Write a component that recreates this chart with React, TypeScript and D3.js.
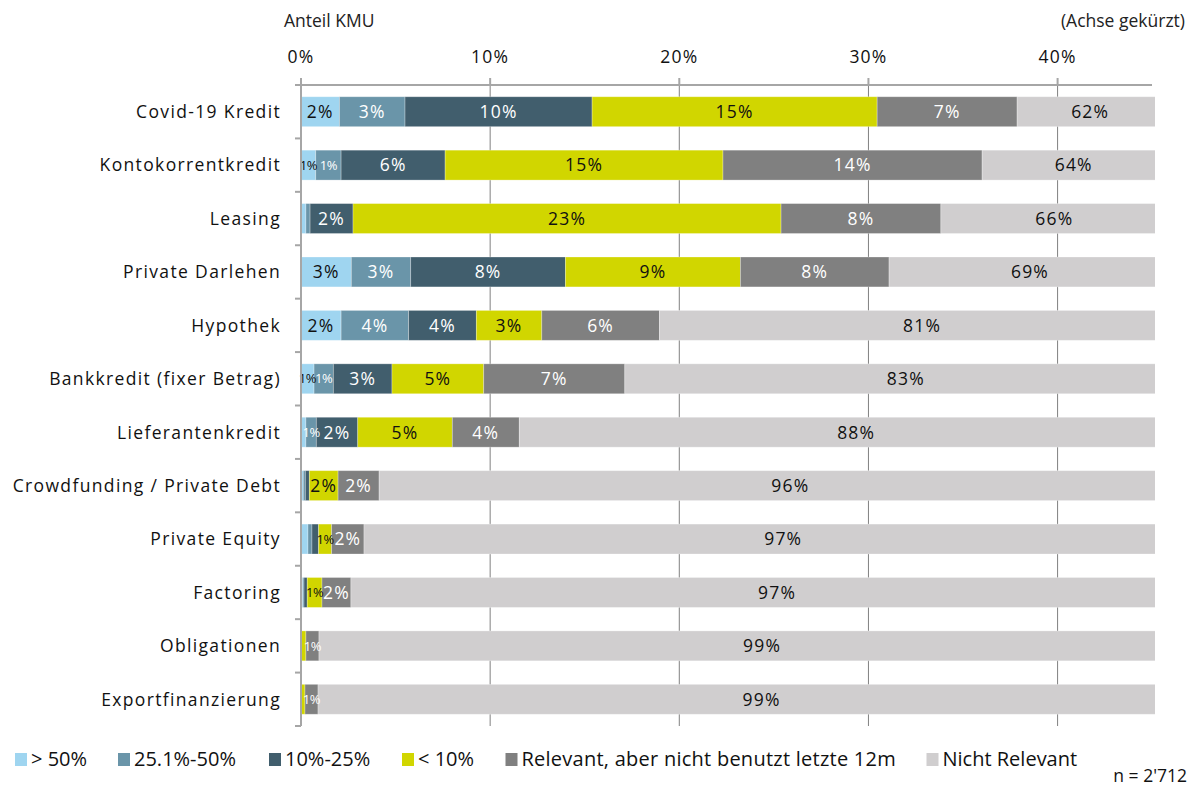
import React from "react";
import * as d3 from "d3";

const categories = [
  "Covid-19 Kredit",
  "Kontokorrentkredit",
  "Leasing",
  "Private Darlehen",
  "Hypothek",
  "Bankkredit (fixer Betrag)",
  "Lieferantenkredit",
  "Crowdfunding / Private Debt",
  "Private Equity",
  "Factoring",
  "Obligationen",
  "Exportfinanzierung",
];

const seriesNames = [
  "> 50%",
  "25.1%-50%",
  "10%-25%",
  "< 10%",
  "Relevant, aber nicht benutzt letzte 12m",
  "Nicht Relevant",
];

const over50 = [2.03, 0.78, 0.26, 2.66, 2.12, 0.69, 0.26, 0.12, 0.37, 0.09, 0, 0];
const from25to50 = [3.47, 1.34, 0.22, 3.14, 3.57, 1.02, 0.55, 0.11, 0.21, 0.07, 0, 0];
const from10to25 = [9.89, 5.5, 2.27, 8.18, 3.58, 3.1, 2.19, 0.21, 0.35, 0.17, 0, 0];
const under10 = [15.07, 14.69, 22.63, 9.25, 3.46, 4.85, 5.0, 1.52, 0.69, 0.78, 0.26, 0.21];
const relevantUnused = [7.4, 13.7, 8.45, 7.86, 6.22, 7.46, 3.54, 2.17, 1.71, 1.53, 0.69, 0.69];
const notRelevant = [62.14, 63.99, 66.17, 68.91, 81.05, 82.88, 88.46, 95.87, 96.67, 97.36, 99.05, 99.1];

const xTicks = [0, 10, 20, 30, 40];
const axisMax = 45.15;

const colors = ["#9fd5f0", "#6a95a9", "#415e6d", "#d1d600", "#808080", "#d0cecf"];
const labelColors = ["#111", "#fff", "#fff", "#111", "#fff", "#111"];

const FONT = "'Open Sans', 'Noto Sans', sans-serif";

export default function App() {
  const W = 1194;
  const H = 787;
  const x0 = 301;
  const x1 = 1155;
  const x = d3.scaleLinear().domain([0, axisMax]).range([x0, x1]);
  const y = d3
    .scaleBand<string>()
    .domain(categories)
    .range([85, 726])
    .paddingInner(0.44)
    .paddingOuter(0.22);

  const seriesArrays = [over50, from25to50, from10to25, under10, relevantUnused, notRelevant];
  const rows = categories.map((c, i) => {
    const r: any = { cat: c };
    seriesNames.forEach((s, k) => (r[s] = seriesArrays[k][i]));
    return r;
  });
  const stacked = d3.stack<any>().keys(seriesNames)(rows);

  const legendX = [15, 118, 269, 402, 505.5, 926.5];
  const bw = y.bandwidth();
  const boundaries = d3.range(categories.length + 1).map((i) => y.range()[0] + i * y.step());

  return (
    <svg width={W} height={H} style={{ display: "block", position: "absolute", left: 0, top: 0 }}>
      <defs>
        <clipPath id="plotclip">
          <rect x={x0} y={0} width={x1 - x0} height={H} />
        </clipPath>
      </defs>
      <rect width={W} height={H} fill="#fff" />

      {/* headers */}
      <text x={284} y={27} fontFamily={FONT} fontSize={17.5} fill="#222">Anteil KMU</text>
      <text x={1185} y={27} textAnchor="end" fontFamily={FONT} fontSize={17.5} fill="#222">(Achse gekürzt)</text>

      {/* gridlines */}
      {xTicks.filter((t) => t > 0).map((t) => (
        <line key={"g" + t} x1={x(t)} x2={x(t)} y1={85} y2={726} stroke="#808080" strokeWidth={1} />
      ))}

      {/* bars */}
      <g clipPath="url(#plotclip)">
        {stacked.map((s, k) =>
          s.map((d, i) => (
            <rect
              key={k + "-" + i}
              x={x(d[0])}
              y={y(categories[i])}
              width={Math.max(0, x(d[1]) - x(d[0]))}
              height={bw}
              fill={colors[k]}
              stroke="rgba(255,255,255,0.35)"
              strokeWidth={0.8}
            />
          ))
        )}
      </g>

      {/* segment labels */}
      {stacked.map((s, k) =>
        s.map((d, i) => {
          const v = d[1] - d[0];
          if (Math.round(v) < 1) return null;
          const a = x(d[0]);
          const truncated = x(d[1]) > x1;
          const cx = truncated ? a + 0.53 * (x1 - a) : (a + x(d[1])) / 2;
          const small = v < 1.45;
          return (
            <text
              key={"l" + k + "-" + i}
              x={cx}
              y={(y(categories[i]) as number) + bw / 2}
              dy="0.36em"
              textAnchor="middle"
              fontFamily={FONT}
              fontSize={small ? 13 : 17.5}
              letterSpacing={small ? -0.4 : 1.2}
              fill={labelColors[k]}
            >
              {Math.round(v) + "%"}
            </text>
          );
        })
      )}

      {/* x axis */}
      <line x1={295} x2={1152} y1={85} y2={85} stroke="#a6a6a6" strokeWidth={2} />
      {xTicks.map((t) => (
        <g key={"t" + t}>
          <line x1={x(t)} x2={x(t)} y1={78} y2={85} stroke="#a6a6a6" strokeWidth={2} />
          <text x={x(t)} y={63} textAnchor="middle" fontFamily={FONT} fontSize={17.5} letterSpacing={1.2} fill="#111">
            {t + "%"}
          </text>
        </g>
      ))}

      {/* y axis */}
      <line x1={x0} x2={x0} y1={78} y2={726} stroke="#a6a6a6" strokeWidth={2} />
      {boundaries.map((b, i) => (
        <line key={"yt" + i} x1={295} x2={x0} y1={b} y2={b} stroke="#a6a6a6" strokeWidth={2} />
      ))}
      {categories.map((c) => (
        <text
          key={c}
          x={281}
          y={(y(c) as number) + bw / 2}
          dy="0.36em"
          textAnchor="end"
          fontFamily={FONT}
          fontSize={17.5}
          letterSpacing={1.35}
          fill="#111"
        >
          {c}
        </text>
      ))}

      {/* legend */}
      {seriesNames.map((s, k) => (
        <g key={"lg" + k}>
          <rect x={legendX[k]} y={753} width={12} height={13} fill={colors[k]} />
          <text x={legendX[k] + 16} y={766} fontFamily={FONT} fontSize={20} letterSpacing={k === 4 ? 0.25 : 0} fill="#111">
            {s}
          </text>
        </g>
      ))}
      <text x={1187} y={782} textAnchor="end" fontFamily={FONT} fontSize={17.5} fill="#111">n = 2'712</text>
    </svg>
  );
}
